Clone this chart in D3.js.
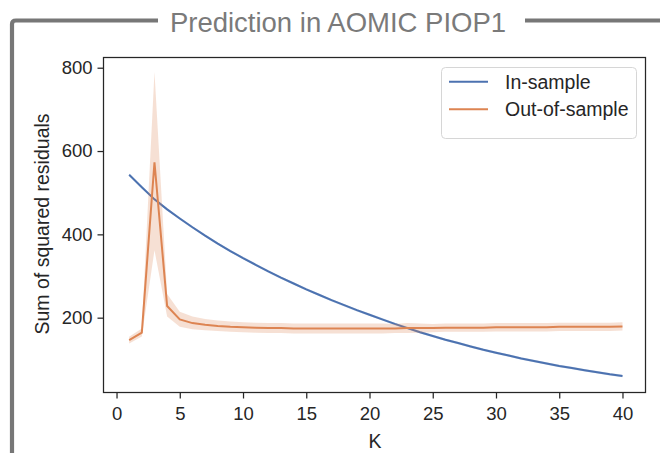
<!DOCTYPE html>
<html>
<head>
<meta charset="utf-8">
<script src="https://cdn.jsdelivr.net/npm/d3@7"></script>
<style>
  body { margin: 0; background: #fff; }
  svg text { font-family: "Liberation Sans", Arial, sans-serif; fill: #262626; }
</style>
</head>
<body>
<div id="graphic"></div>
<script>
// number of components
var kValues = [1, 2, 3, 4, 5, 6, 7, 8, 9, 10, 11, 12, 13, 14, 15, 16, 17, 18, 19, 20,
               21, 22, 23, 24, 25, 26, 27, 28, 29, 30, 31, 32, 33, 34, 35, 36, 37, 38, 39, 40];

// in-sample sum of squared residuals (mean, lower, upper)
var inSample = [543, 513, 484, 460, 438, 417, 397, 378, 360, 343, 327, 311, 296, 282, 268, 255, 242, 230, 218, 207,
                196, 185, 175, 165, 156, 147, 139, 131, 123, 116, 109, 102, 96, 90, 84, 79, 74, 69, 64, 60];
var inLow  = [540, 510, 481, 457, 435, 414, 394, 375, 357, 340, 324, 308, 293, 279, 265, 252, 239, 227, 215, 204,
              193, 182, 172, 162, 153, 144, 136, 128, 120, 113, 106, 99, 93, 87, 81, 76, 71, 66, 61, 57];
var inHigh = [546, 516, 487, 463, 441, 420, 400, 381, 363, 346, 330, 314, 299, 285, 271, 258, 245, 233, 221, 210,
              199, 188, 178, 168, 159, 150, 142, 134, 126, 119, 112, 105, 99, 93, 87, 82, 77, 72, 67, 63];

// out-of-sample sum of squared residuals (mean, lower, upper)
var outSample = [146, 164, 573, 228, 196, 187, 183, 180, 178, 177, 176, 175, 175, 174, 174, 174, 174, 174, 174, 174,
                 174, 174, 175, 175, 175, 176, 176, 176, 176, 177, 177, 177, 177, 177, 178, 178, 178, 178, 178, 179];
var outLow  = [138, 155, 362, 203, 178, 172, 170, 168, 166, 165, 164, 163, 163, 162, 162, 162, 162, 162, 162, 162,
               162, 163, 163, 164, 165, 166, 166, 166, 166, 167, 167, 167, 167, 167, 168, 168, 168, 168, 168, 169];
var outHigh = [154, 174, 790, 257, 214, 203, 197, 193, 191, 189, 188, 187, 187, 186, 186, 186, 186, 186, 186, 186,
               186, 185, 187, 186, 185, 186, 186, 186, 186, 187, 187, 187, 187, 187, 188, 188, 188, 188, 188, 189];

var xTicks = [0, 5, 10, 15, 20, 25, 30, 35, 40];
var yTicks = [200, 400, 600, 800];
var seriesNames = ["In-sample", "Out-of-sample"];

var w = 660, h = 453;
var plotLeft = 103.5, plotRight = 645.5, plotTop = 57.5, plotBottom = 392.5;
var blue = "#4c72b0", orange = "#dd8452", frameGray = "#777777";

var svg = d3.select("#graphic")
    .append("svg")
    .attr("width", w)
    .attr("height", h);

// title with the gray bracket round it
svg.append("path")
    .attr("d", "M12,453 L12,24 Q12,20.5 16,20.5 L158,20.5 M525,20.5 L660,20.5")
    .attr("fill", "none")
    .attr("stroke", frameGray)
    .attr("stroke-width", 4.2);
svg.append("text")
    .attr("x", 338)
    .attr("y", 31.5)
    .attr("text-anchor", "middle")
    .style("font-size", "27.5px")
    .style("fill", "#7a7a7a")
    .text("Prediction in AOMIC PIOP1");

var xScale = d3.scaleLinear()
    .domain([-1.03, 41.82])
    .range([plotLeft, plotRight]);
var yScale = d3.scaleLinear()
    .domain([21.6, 825])
    .range([392, 57.3]);

function rows(mean, lo, hi){
    return kValues.map(function(k, i){ return {k: k, m: mean[i], lo: lo[i], hi: hi[i]}; });
}

var series = [
    {name: seriesNames[0], color: blue, data: rows(inSample, inLow, inHigh)},
    {name: seriesNames[1], color: orange, data: rows(outSample, outLow, outHigh)}
];

var area = d3.area()
    .x(function(d){ return xScale(d.k); })
    .y0(function(d){ return yScale(d.lo); })
    .y1(function(d){ return yScale(d.hi); });
var line = d3.line()
    .x(function(d){ return xScale(d.k); })
    .y(function(d){ return yScale(d.m); });

series.forEach(function(s){
    svg.append("path")
        .attr("d", area(s.data))
        .attr("fill", s.color)
        .attr("fill-opacity", 0.25);
    svg.append("path")
        .attr("d", line(s.data))
        .attr("fill", "none")
        .attr("stroke", s.color)
        .attr("stroke-width", 2);
});

// axes frame
svg.append("rect")
    .attr("x", plotLeft)
    .attr("y", plotTop)
    .attr("width", plotRight - plotLeft)
    .attr("height", plotBottom - plotTop)
    .attr("fill", "none")
    .attr("stroke", "#262626")
    .attr("stroke-width", 1.25);

var xAxis = svg.append("g")
    .attr("transform", "translate(0," + plotBottom + ")")
    .call(d3.axisBottom(xScale).tickValues(xTicks).tickSize(6).tickPadding(8));
var yAxis = svg.append("g")
    .attr("transform", "translate(" + plotLeft + ",0)")
    .call(d3.axisLeft(yScale).tickValues(yTicks).tickSize(6).tickPadding(5));

[xAxis, yAxis].forEach(function(a){
    a.select(".domain").remove();
    a.selectAll(".tick line").attr("stroke", "#262626").attr("stroke-width", 1.25);
    a.selectAll(".tick text")
        .style("font-size", "18.5px")
        .style("font-family", "'Liberation Sans', Arial, sans-serif")
        .attr("fill", "#262626");
});

svg.append("text")
    .attr("x", 375)
    .attr("y", 448)
    .attr("text-anchor", "middle")
    .style("font-size", "19.5px")
    .text("K");
svg.append("text")
    .attr("transform", "translate(49,224) rotate(-90)")
    .attr("text-anchor", "middle")
    .style("font-size", "19.5px")
    .text("Sum of squared residuals");

// legend
var legend = svg.append("g");
legend.append("rect")
    .attr("x", 441.5)
    .attr("y", 67.5)
    .attr("width", 195)
    .attr("height", 71)
    .attr("rx", 4)
    .attr("fill", "#fff")
    .attr("fill-opacity", 0.8)
    .attr("stroke", "#d6d6d6");
series.forEach(function(s, i){
    var ly = 81.7 + i * 27.6;
    legend.append("line")
        .attr("x1", 449)
        .attr("x2", 488)
        .attr("y1", ly)
        .attr("y2", ly)
        .attr("stroke", s.color)
        .attr("stroke-width", 2);
    legend.append("text")
        .attr("x", 505)
        .attr("y", ly + 7)
        .style("font-size", "19.5px")
        .text(s.name);
});
</script>
</body>
</html>
